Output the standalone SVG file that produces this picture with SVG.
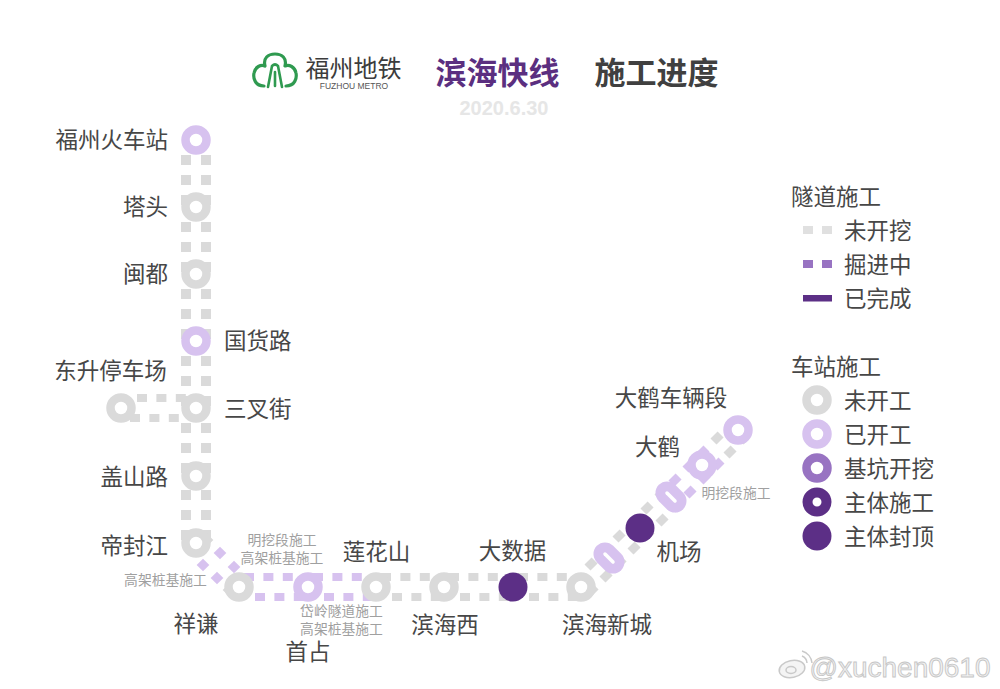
<svg xmlns="http://www.w3.org/2000/svg" width="1000" height="689" viewBox="0 0 1000 689">
<style>
text{font-family:"Noto Sans CJK SC","Noto Sans",sans-serif;text-anchor:middle;dominant-baseline:central;transform:translateY(-2px)}
.l{font-size:22.5px;fill:#474747}
.e{text-anchor:end}
.s{text-anchor:start}
.m{font-size:13.8px;fill:#a0a0a0}
.t{font-size:31px;font-weight:700}
.g{fill:none;stroke:#dadada;stroke-width:10;stroke-dasharray:10 10}
.gh{fill:none;stroke:#dadada;stroke-width:8;stroke-dasharray:10 9.4}
.ph{fill:none;stroke:#d7c2ef;stroke-width:8;stroke-dasharray:10 9.4}
.gd{fill:none;stroke:#dadada;stroke-width:8.5;stroke-dasharray:10 9.8}
.pd{fill:none;stroke:#d7c2ef;stroke-width:8.5;stroke-dasharray:10 9.8}
.gr{fill:#fff;stroke:#dadada;stroke-width:8.5}
.lp{fill:#fff;stroke:#d7c2ef;stroke-width:8.5}
.mp{fill:#fff;stroke:#9873c2;stroke-width:8.5}
.dp{fill:#fff;stroke:#5c2f86;stroke-width:10}
.fp{fill:#5c2f86}
.pill{stroke:#d7c2ef;stroke-width:23;stroke-linecap:round}
.slot{stroke:#fff;stroke-width:3.5;stroke-linecap:round}
</style>

<g id="header">
<g id="logo" fill="none" stroke="#2f9a50" stroke-width="3.2" stroke-linecap="round" stroke-linejoin="round">
<path d="M264 86C255 86 253 78 254 73C255 67 261 64 265 66C263 58 268 54 275 54C282 54 287 58 285 66C289 64 295 67 296 73C297 78 295 86 286 86"/>
<path d="M268 87L272 66Q275 63 278 66L282 87M275 72V86" stroke-width="2.6"/>
</g>
<text x="353.500" y="68" font-size="24" fill="#3c3c3c">福州地铁</text>
<text x="354" y="87.500" font-size="8.500" fill="#555" style="font-family:'Liberation Sans',sans-serif">FUZHOU METRO</text>
<text class="t" x="497.500" y="72.500" fill="#5b2f80">滨海快线</text>
<text class="t" x="656.500" y="72.500" fill="#404040">施工进度</text>
<text x="504" y="110" font-size="20" font-weight="700" fill="#e6e6e6" style="font-family:'Liberation Sans',sans-serif">2020.6.30</text>
</g>

<g id="connectors">
<path class="g" d="M186 155V205M206 155V205M186 222V272M206 222V272M186 289V339M206 289V339M186 356V406M206 356V406M186 423V473M206 423V473M186 490V540M206 490V540"/>
<path class="gh" d="M137 398H186M130 418H180"/>
<path class="ph" d="M244 577H302M313 577H371M255 597H313M324 597H382"/>
<path class="gh" d="M381 577H439M449 577H507M518 577H576M392 597H450M460 597H518M529 597H587"/>
<g fill="#d7c2ef">
<rect x="-4.500" y="-4.500" width="9" height="9" transform="translate(220 553) rotate(45)"/>
<rect x="-4.500" y="-4.500" width="9" height="9" transform="translate(234 567) rotate(45)"/>
<rect x="-4.500" y="-4.500" width="9" height="9" transform="translate(203 565) rotate(45)"/>
<rect x="-4.500" y="-4.500" width="9" height="9" transform="translate(217 578) rotate(45)"/>
</g>
<g fill="#dadada">
<rect x="-4.500" y="-4.500" width="9" height="9" transform="translate(207 540) rotate(45)"/>
<rect x="-4.500" y="-4.500" width="9" height="9" transform="translate(229 590) rotate(45)"/>
</g>
<path class="gd" d="M587.500 567.500L671.500 483.500M713.500 441.500L735 420M588.500 593.500L672.500 509.500M726.500 455.500L745 437"/>
<path class="pd" d="M671.500 483.500L706.500 448.500M672.500 509.500L721.500 460.500"/>
</g>

<g id="st-fuzhou"><circle class="lp" cx="196" cy="140" r="10.500"/><text class="l e" x="168" y="140">福州火车站</text></g>
<g id="st-tatou"><circle class="gr" cx="196" cy="207" r="10.500"/><text class="l e" x="168" y="207">塔头</text></g>
<g id="st-mindu"><circle class="gr" cx="196" cy="274" r="10.500"/><text class="l e" x="168" y="274">闽都</text></g>
<g id="st-guohuo"><circle class="lp" cx="196" cy="341" r="10.500"/><text class="l s" x="224" y="341">国货路</text></g>
<g id="st-dongsheng"><circle class="gr" cx="121" cy="408" r="10.500"/><text class="l" x="110.500" y="371">东升停车场</text></g>
<g id="st-sancha"><circle class="gr" cx="196" cy="408" r="10.500"/><text class="l s" x="224" y="409">三叉街</text></g>
<g id="st-gaishan"><circle class="gr" cx="196" cy="476" r="10.500"/><text class="l e" x="168" y="477">盖山路</text></g>
<g id="st-difeng"><circle class="gr" cx="196" cy="543" r="10.500"/><text class="l e" x="168" y="546">帝封江</text></g>
<g id="st-xiangqian"><circle class="gr" cx="239" cy="587" r="10.500"/><text class="l" x="196" y="624">祥谦</text></g>
<g id="st-shouzhan"><circle class="lp" cx="308" cy="587" r="10.500"/><text class="l" x="308" y="652">首占</text></g>
<g id="st-lianhua"><circle class="gr" cx="376" cy="587" r="10.500"/><text class="l" x="376.500" y="552">莲花山</text></g>
<g id="st-binhaixi"><circle class="gr" cx="444" cy="587" r="10.500"/><text class="l" x="445" y="625">滨海西</text></g>
<g id="st-dashuju"><circle class="fp" cx="513" cy="587" r="14.500"/><text class="l" x="512.500" y="551">大数据</text></g>
<g id="st-binhaixincheng"><circle class="gr" cx="581" cy="587" r="10.500"/><text class="l" x="607" y="625">滨海新城</text></g>
<g id="st-pill1"><line class="pill" x1="605" y1="554" x2="613" y2="562"/><line class="slot" x1="605" y1="554" x2="613" y2="562"/></g>
<g id="st-jichang"><circle class="fp" cx="640" cy="528" r="14.500"/><text class="l" x="679" y="552">机场</text></g>
<g id="st-pill2"><line class="pill" x1="667" y1="493" x2="675" y2="501"/><line class="slot" x1="667" y1="493" x2="675" y2="501"/></g>
<g id="st-dahe"><circle class="lp" cx="702" cy="465" r="10.500"/><text class="l" x="657.500" y="447">大鹤</text></g>
<g id="st-depot"><circle class="lp" cx="738" cy="430" r="10.500"/><text class="l" x="671" y="398">大鹤车辆段</text></g>

<g id="notes">
<text class="m" x="282" y="541">明挖段施工</text>
<text class="m" x="282" y="559">高架桩基施工</text>
<text class="m" x="165.500" y="581">高架桩基施工</text>
<text class="m" x="341.500" y="612">岱岭隧道施工</text>
<text class="m" x="341.500" y="630">高架桩基施工</text>
<text class="m" x="736" y="494">明挖段施工</text>
</g>

<g id="legend-tunnel">
<text class="l s" x="791" y="197">隧道施工</text>
<path d="M803 226h10v8h-10zM822 226h10v8h-10z" fill="#e0e0e0"/><text class="l s" x="844" y="231">未开挖</text>
<path d="M803 260h10v8h-10zM822 260h10v8h-10z" fill="#9873c2"/><text class="l s" x="844" y="265">掘进中</text>
<rect x="803" y="295" width="29" height="6.500" fill="#5c2f86"/><text class="l s" x="844" y="299">已完成</text>
</g>
<g id="legend-station">
<text class="l s" x="791" y="367">车站施工</text>
<circle class="gr" cx="817" cy="400" r="10.500"/><text class="l s" x="844" y="401">未开工</text>
<circle class="lp" cx="817" cy="434" r="10.500"/><text class="l s" x="844" y="435">已开工</text>
<circle class="mp" cx="817" cy="468" r="10.500"/><text class="l s" x="844" y="469">基坑开挖</text>
<circle class="dp" cx="817" cy="502" r="9.500"/><text class="l s" x="844" y="503">主体施工</text>
<circle class="fp" cx="817" cy="536" r="14.500"/><text class="l s" x="844" y="537">主体封顶</text>
</g>

<g id="watermark">
<g fill="#f4f4f4" stroke="#c9c9c9" stroke-width="1.500">
<ellipse cx="792" cy="669" rx="13" ry="8.500" transform="rotate(-12 792 669)"/>
<ellipse cx="791" cy="670" rx="5" ry="3.500"/>
<path d="M802 656a8 8 0 0 1 5 7M802 651a14 14 0 0 1 10 12" fill="none"/>
</g>
<text x="900" y="669" font-size="28" fill="#f2f2f2" stroke="#c6c6c6" stroke-width=".9" style="font-family:'Liberation Sans',sans-serif">@xuchen0610</text>
</g>
</svg>
